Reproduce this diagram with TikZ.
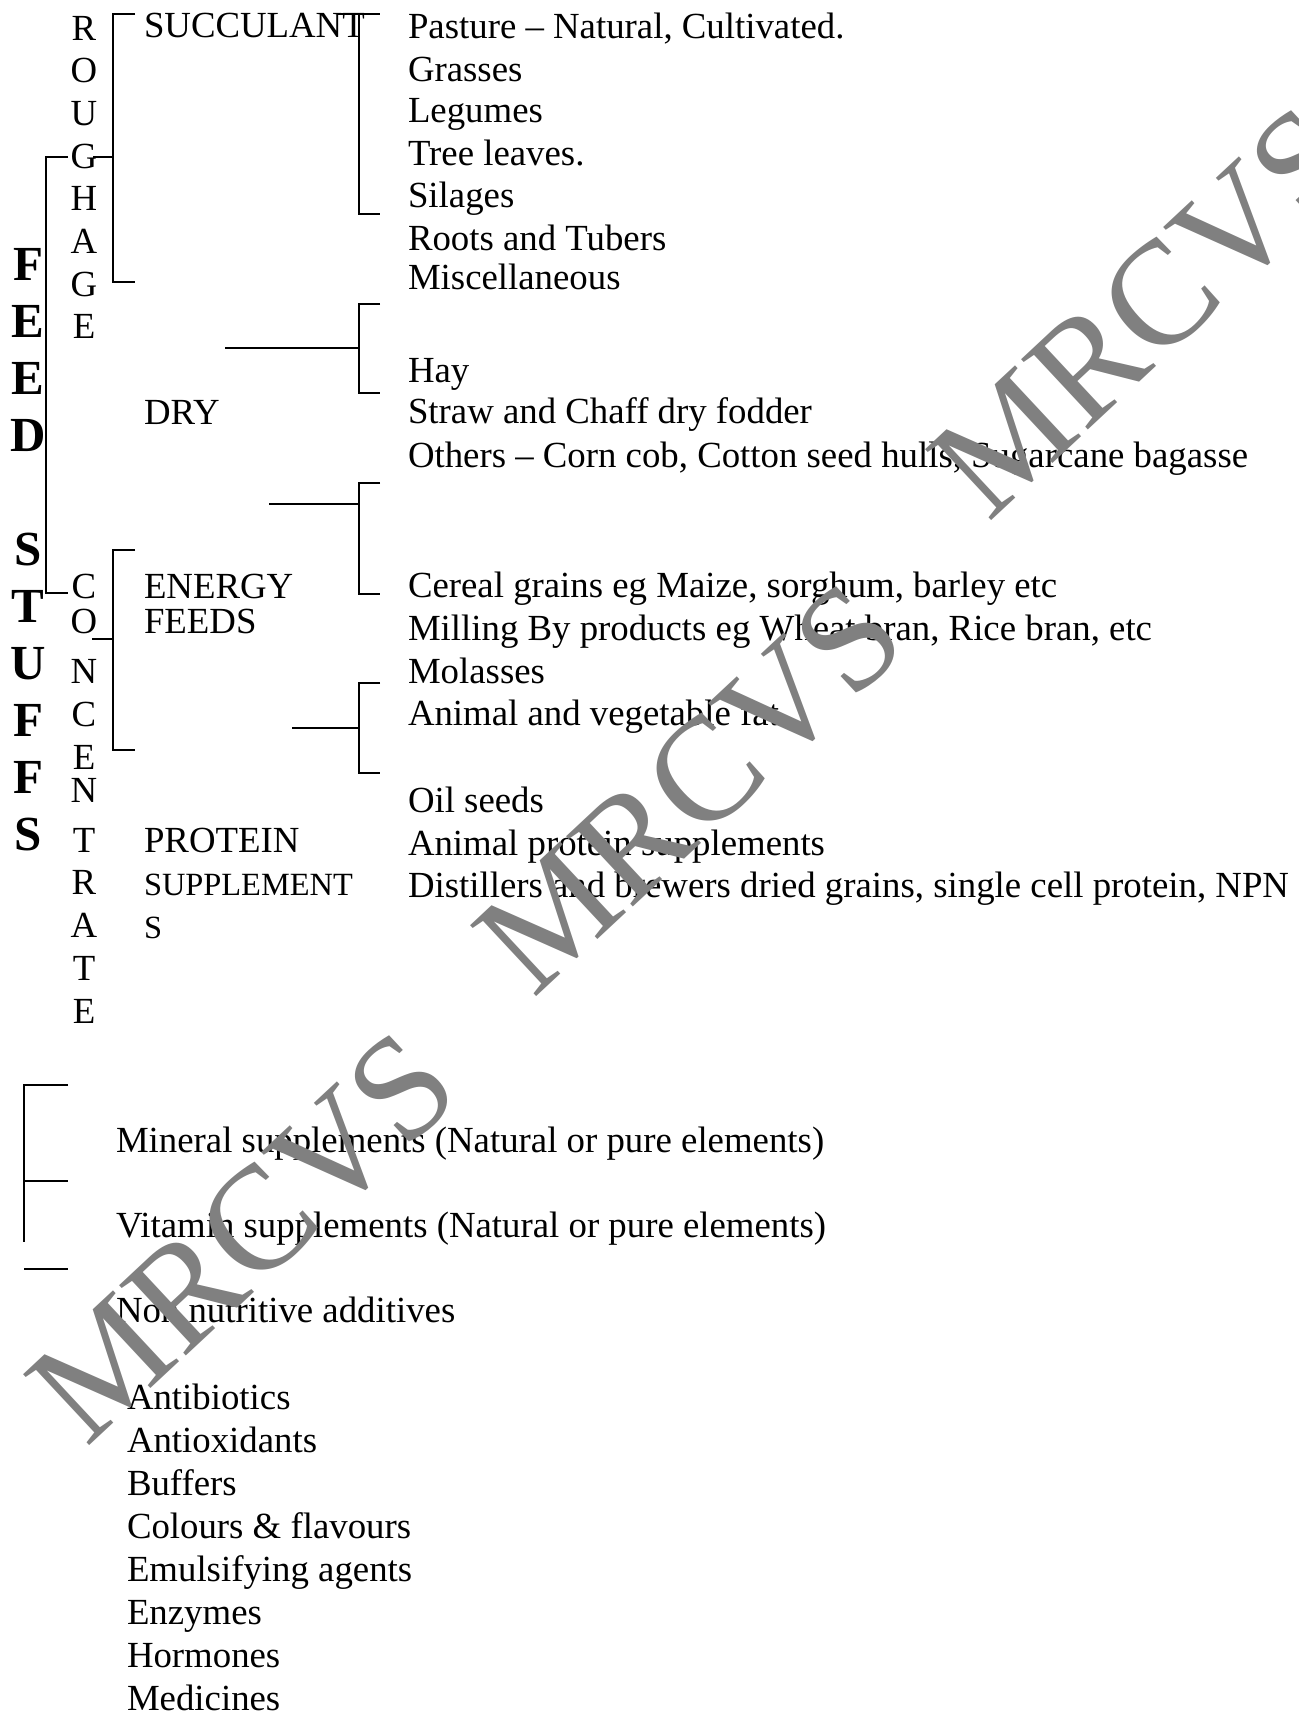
\documentclass[tikz,border=0pt]{standalone}
\usepackage{fontspec}
\setmainfont{Liberation Serif}
\begin{document}
\begin{tikzpicture}[x=0.5pt,y=-0.5pt,line width=1pt,
		txt/.style={anchor=base west,inner sep=0pt,font=\fontsize{18.4}{22}\selectfont},
		lbl/.style={anchor=north west,inner sep=0pt,align=left,font=\fontsize{18.4}{22}\selectfont,execute at begin node=\setlength{\baselineskip}{#1}},
		vword/.style={anchor=north,inner sep=0pt,align=center,font=\fontsize{18.4}{22}\selectfont,execute at begin node=\setlength{\baselineskip}{#1}},
		vbold/.style={vword=#1,font=\fontsize{24.5}{28}\selectfont\bfseries},
		wmark/.style={rotate=43,text=black!50,inner sep=0pt,font=\fontsize{74}{80}\selectfont}]
	\useasboundingbox (0,0) rectangle (1298,1711);

	% vertical titles
	\node[vbold=28.5pt] (feed) at (28,247) {F\\E\\E\\D\\~\\S\\T\\U\\F\\F\\S};
	\node[vword=21.35pt] (rough) at (84,15) {R\\O\\U\\G\\H\\A\\G\\E};
	\node[vword=21.4pt] (conc) at (84,573) {C\\[-4pt]O\\[4pt]N\\C\\E\\[-5pt]N\\[3.5pt]T\\R\\A\\T\\E};

	% classes
	\node[txt] (succulant) at (143,38) {SUCCULANT};
	\node[txt] (dry) at (143,425) {DRY};
	\node[lbl=17.5pt] (energy) at (143,573) {ENERGY\\FEEDS};
	\node[lbl=21.5pt] (protein) at (143,827) {PROTEIN\\{\fontsize{16.2}{20}\selectfont SUPPLEMENT}\\{\fontsize{16.2}{20}\selectfont S}};

	% brackets
	\draw (68,157) -- (46,157) -- (46,593) -- (68,593);
	\draw (135,14) -- (113,14) -- (113,282) -- (135,282);
	\draw (93,157) -- (113,157);
	\draw (135,550) -- (113,550) -- (113,750) -- (135,750);
	\draw (92,639) -- (113,639);
	\draw (337,14) -- (380,14);
	\draw (359,14) -- (359,214) -- (380,214);
	\draw (380,304) -- (359,304) -- (359,393) -- (380,393);
	\draw (225,348) -- (359,348);
	\draw (380,483) -- (359,483) -- (359,594) -- (380,594);
	\draw (269,504) -- (359,504);
	\draw (380,683) -- (359,683) -- (359,773) -- (380,773);
	\draw (292,728) -- (359,728);

	% feeds
	\node[txt] (pasture) at (407,39) {Pasture -- Natural, Cultivated.};
	\node[txt] (grasses) at (407,82) {Grasses};
	\node[txt] (legumes) at (407,123) {Legumes};
	\node[txt] (treeleaves) at (407,166) {Tree leaves.};
	\node[txt] (silages) at (407,208) {Silages};
	\node[txt] (roots) at (407,251) {Roots and Tubers};
	\node[txt] (misc) at (407,290) {Miscellaneous};
	\node[txt] (hay) at (407,383) {Hay};
	\node[txt] (straw) at (407,424) {Straw and Chaff dry fodder};
	\node[txt] (others) at (407,467) {Others -- Corn cob, Cotton seed hulls, Sugarcane bagasse};
	\node[txt] (cereal) at (407,597) {Cereal grains eg Maize, sorghum, barley etc};
	\node[txt] (milling) at (407,640) {Milling By products eg Wheat bran, Rice bran, etc};
	\node[txt] (molasses) at (407,683) {Molasses};
	\node[txt] (fat) at (407,725) {Animal and vegetable fat};
	\node[txt] (oilseeds) at (407,812) {Oil seeds};
	\node[txt] (animalprot) at (407,855) {Animal protein supplements};
	\node[txt] (distillers) at (407,897) {Distillers and brewers dried grains, single cell protein, NPN};

	% supplements and additives
	\draw (68,1085) -- (24,1085) -- (24,1242);
	\draw (24,1181) -- (68,1181);
	\draw (24,1269) -- (68,1269);
	\node[txt] (mineral) at (115,1152) {Mineral supplements (Natural or pure elements)};
	\node[txt] (vitamin) at (115,1237) {Vitamin supplements (Natural or pure elements)};
	\node[txt] (nonnutr) at (115,1322) {Non nutritive additives};
	\node[lbl=21.5pt] (additives) at (126,1383) {Antibiotics\\Antioxidants\\Buffers\\Colours \& flavours\\Emulsifying agents\\Enzymes\\Hormones\\Medicines};

	% watermark
	\node[wmark] (wmtop) at (1145,312) {MRCVS};
	\node[wmark] (wmmid) at (690,788) {MRCVS};
	\node[wmark] (wmlow) at (243,1237) {MRCVS};
\end{tikzpicture}
\end{document}
